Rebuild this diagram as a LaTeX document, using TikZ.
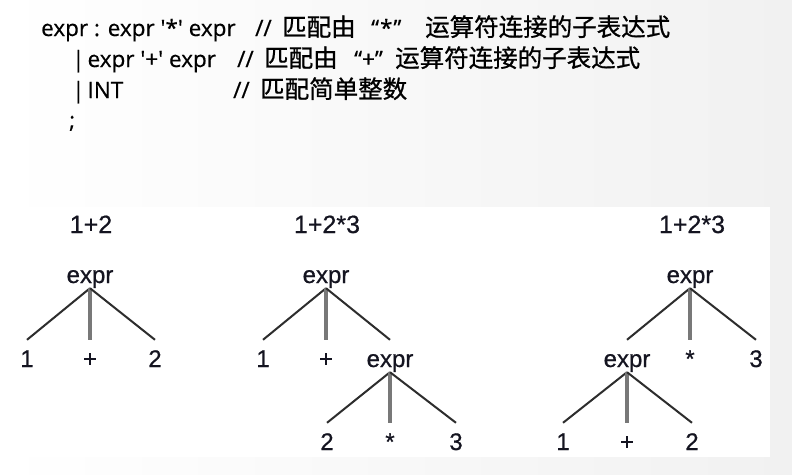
\documentclass[tikz,border=0pt]{standalone}
\usepackage{fontspec}
\setmainfont{Liberation Sans}[FakeBold=0.6]
\newfontfamily\cjk{Noto Sans CJK SC}[FakeBold=0.8]
\newfontfamily\lat{Open Sans}[FakeBold=0.5]
\definecolor{bgr}{RGB}{241,241,241}
\definecolor{ink}{RGB}{20,20,32}
\definecolor{diag}{RGB}{45,45,45}
\definecolor{vert}{RGB}{120,120,120}
\begin{document}
\begin{tikzpicture}[x=1pt,y=-1pt,
  code/.style={anchor=base west,inner sep=0,font=\lat\fontsize{22.5}{28}\selectfont},
  cn/.style={anchor=base west,inner sep=0,font=\cjk\fontsize{24.5}{28}\selectfont},
  lab/.style={anchor=base,inner sep=0,text height=17pt,text depth=5pt,font=\fontsize{24}{28}\selectfont,text=ink},
  ttl/.style={anchor=base,inner sep=0,font=\fontsize{25}{28}\selectfont,text=ink},
  branch/.style={draw=diag,line width=2pt},
  trunk/.style={draw=vert,line width=3.2pt}]
\useasboundingbox (0,0) rectangle (792,474);
\shade[left color=white,right color=bgr] (0,0) rectangle (792,474);
\fill[white] (0,207) rectangle (770,457);

% grammar text
\node[code] (l1) at (41,36) {expr : expr '*' expr};
\node[code] (s1) at (255,36) {//};
\node[cn] (c1a) at (282,36) {匹配由};
\node[code] (q1) at (371,36) {“\kern1pt*\kern1pt”};
\node[cn] (c1b) at (425,36) {运算符连接的子表达式};

\node[code] (l2) at (72,67) {|\kern3pt expr '+' expr};
\node[code] (s2) at (237,67) {//};
\node[cn] (c2a) at (264,67) {匹配由};
\node[code] (q2) at (354,67) {“+”};
\node[cn] (c2b) at (395,67) {运算符连接的子表达式};

\node[code] (l3) at (72,98) {|\kern3pt INT};
\node[code] (s3) at (233,98) {//};
\node[cn] (c3a) at (260,98) {匹配简单整数};

\node[code] (l4) at (69,128) {;};

% tree 1
\node[ttl] (t1) at (91,233) {1+2};
\node[lab] (r1) at (90,283) {expr};
\node[lab] (a1) at (27,367) {1};
\node[lab] (b1) at (90,367) {+};
\node[lab] (c1) at (155,367) {2};
\draw[branch] (r1.south) -- ([yshift=10pt]a1.north);
\draw[trunk] (r1.south) -- ([yshift=10pt]b1.north);
\draw[branch] (r1.south) -- ([yshift=10pt]c1.north);

% tree 2
\node[ttl] (t2) at (327,233) {1+2*3};
\node[lab] (r2) at (326,283) {expr};
\node[lab] (a2) at (263,367) {1};
\node[lab] (b2) at (326,367) {+};
\node[lab] (e2) at (390,367) {expr};
\node[lab] (f2) at (327,450) {2};
\node[lab] (g2) at (390,450) {*};
\node[lab] (h2) at (456,450) {3};
\draw[branch] (r2.south) -- ([yshift=10pt]a2.north);
\draw[trunk] (r2.south) -- ([yshift=10pt]b2.north);
\draw[branch] (r2.south) -- ([yshift=10pt]e2.north);
\draw[branch] (e2.south) -- ([yshift=10pt]f2.north);
\draw[trunk] (e2.south) -- ([yshift=10pt]g2.north);
\draw[branch] (e2.south) -- ([yshift=10pt]h2.north);

% tree 3
\node[ttl] (t3) at (692,233) {1+2*3};
\node[lab] (r3) at (690,283) {expr};
\node[lab] (e3) at (627,367) {expr};
\node[lab] (b3) at (690,367) {*};
\node[lab] (c3) at (756,367) {3};
\node[lab] (f3) at (563,450) {1};
\node[lab] (g3) at (627,450) {+};
\node[lab] (h3) at (692,450) {2};
\draw[branch] (r3.south) -- ([yshift=10pt]e3.north);
\draw[trunk] (r3.south) -- ([yshift=10pt]b3.north);
\draw[branch] (r3.south) -- ([yshift=10pt]c3.north);
\draw[branch] (e3.south) -- ([yshift=10pt]f3.north);
\draw[trunk] (e3.south) -- ([yshift=10pt]g3.north);
\draw[branch] (e3.south) -- ([yshift=10pt]h3.north);
\end{tikzpicture}
\end{document}
